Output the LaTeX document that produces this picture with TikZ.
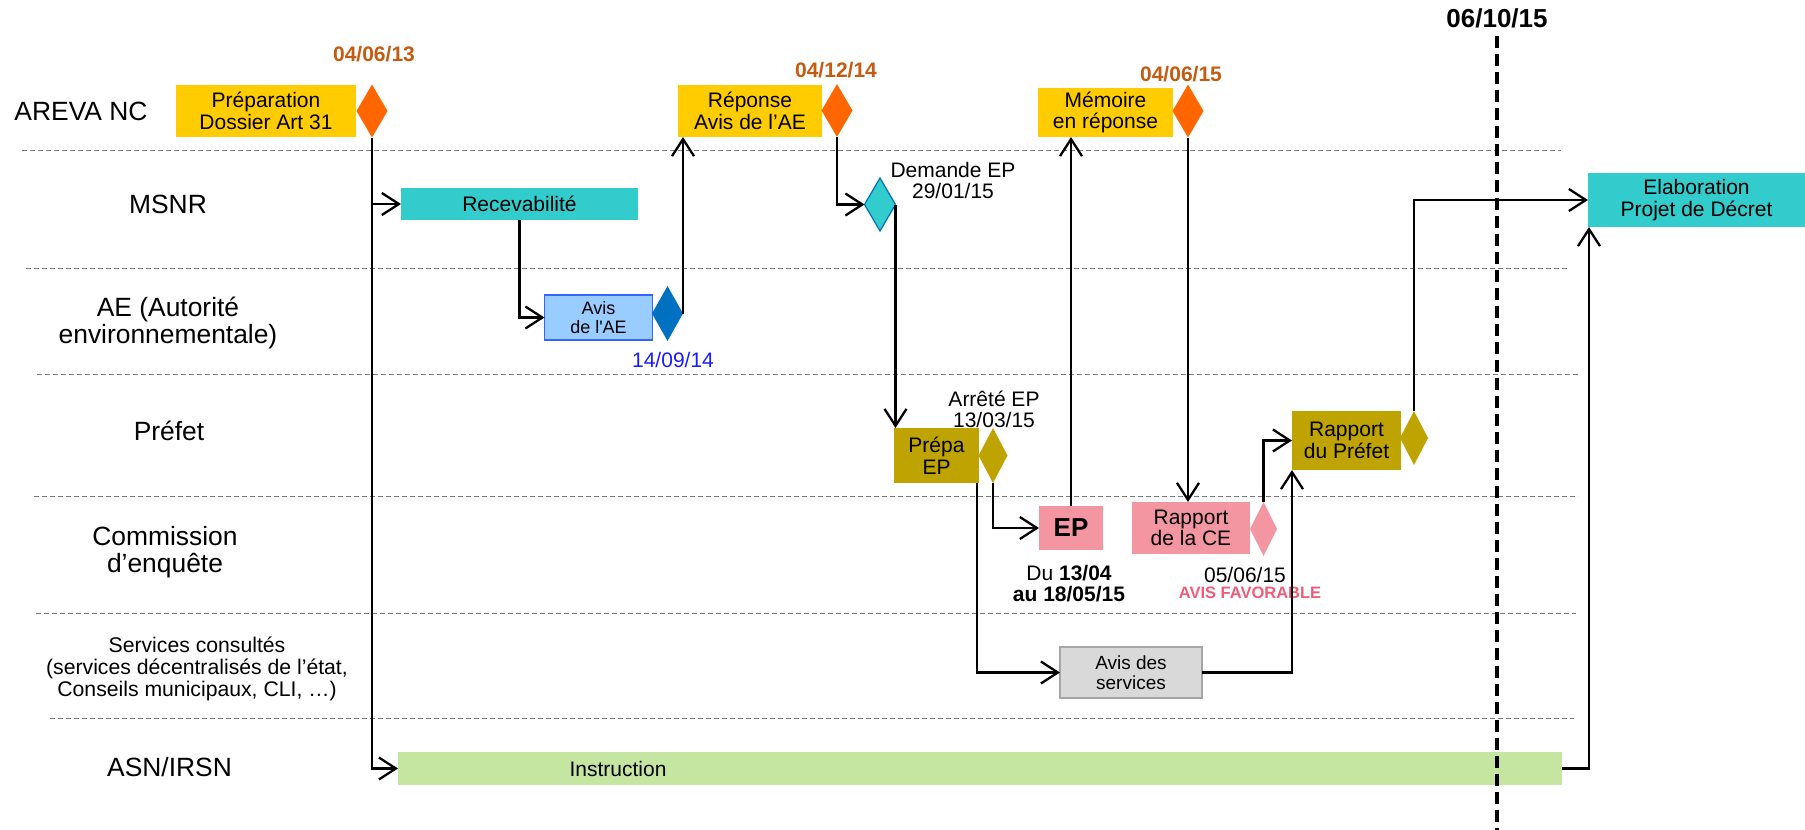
\documentclass[tikz,border=0pt]{standalone}
\usepackage{fontspec}
\setmainfont{Liberation Sans}
\usetikzlibrary{shapes.geometric,arrows.meta}

\definecolor{arevayellow}{RGB}{255,204,0}
\definecolor{arevaorange}{RGB}{255,102,0}
\definecolor{msnrteal}{RGB}{51,204,204}
\definecolor{aeblue}{RGB}{153,204,255}
\definecolor{aeborder}{RGB}{51,102,255}
\definecolor{aedark}{RGB}{0,112,192}
\definecolor{prefolive}{RGB}{191,163,0}
\definecolor{cepink}{RGB}{244,150,162}
\definecolor{servgray}{RGB}{217,217,217}
\definecolor{servborder}{RGB}{166,166,166}
\definecolor{asngreen}{RGB}{196,230,160}
\definecolor{datebrown}{RGB}{197,90,17}
\definecolor{dateblue}{RGB}{26,26,255}
\definecolor{avispink}{RGB}{240,92,120}
\definecolor{sepgray}{RGB}{120,120,120}

\begin{document}
\begin{tikzpicture}[x=1pt, y=-1pt]
  \tikzstyle{lane} = [align=center, inner sep=0pt, font=\fontsize{26.4}{27}\selectfont];
  \tikzstyle{note} = [align=center, inner sep=0pt, font=\fontsize{21}{21}\selectfont];
  \tikzstyle{date_lbl} = [note, text=datebrown, font=\bfseries\fontsize{21}{21}\selectfont];
  \tikzstyle{box} = [inner sep=0pt, outer sep=0pt, align=center, font=\fontsize{21}{21.6}\selectfont];
  \tikzstyle{yellow_box} = [box, fill=arevayellow];
  \tikzstyle{teal_box}   = [box, fill=msnrteal];
  \tikzstyle{blue_box}   = [box, fill=aeblue, draw=aeborder, line width=1.5pt, font=\fontsize{18}{19}\selectfont];
  \tikzstyle{olive_box}  = [box, fill=prefolive];
  \tikzstyle{pink_box}   = [box, fill=cepink];
  \tikzstyle{gray_box}   = [box, fill=servgray, draw=servborder, line width=1.5pt, font=\fontsize{19}{20}\selectfont];
  \tikzstyle{green_box}  = [box, fill=asngreen];
  \tikzstyle{milestone}  = [diamond, inner sep=0pt, outer sep=0pt, minimum width=31pt, minimum height=53pt];
  \tikzstyle{orange_ms}  = [milestone, fill=arevaorange];
  \tikzstyle{blue_ms}    = [milestone, fill=aedark];
  \tikzstyle{teal_ms}    = [milestone, fill=msnrteal, draw=aedark, line width=1.2pt];
  \tikzstyle{olive_ms}   = [milestone, fill=prefolive];
  \tikzstyle{pink_ms}    = [milestone, fill=cepink];
  \tikzstyle{flow} = [line width=2.3pt, -{Straight Barb[length=17pt, width=22pt]}];
  \tikzstyle{sep}  = [sepgray, line width=1pt, dash pattern=on 5pt off 3pt];

  \useasboundingbox (0, 0) rectangle (1805, 830);

  \draw[sep] (22, 150) -- (1561, 150);
  \draw[sep] (26, 268) -- (1567, 268);
  \draw[sep] (37, 374) -- (1578, 374);
  \draw[sep] (34, 496) -- (1578, 496);
  \draw[sep] (36, 613) -- (1576, 613);
  \draw[sep] (50, 718) -- (1574, 718);

  \node[lane] (areva)    at (81, 111.5) {AREVA NC};
  \node[lane] (msnr)     at (168, 204)  {MSNR};
  \node[lane] (ae)       at (168, 323)  {AE (Autorité\\environnementale)};
  \node[lane] (prefet)   at (169, 431)  {Préfet};
  \node[lane] (ce)       at (165, 552)  {Commission\\d’enquête};
  \node[lane, font=\fontsize{21.2}{22}\selectfont] (services) at (197, 669)
    {Services consultés\\(services décentralisés de l’état,\\Conseils municipaux, CLI, …)};
  \node[lane] (asn)      at (169.5, 767) {ASN/IRSN};

  \node[yellow_box, minimum width=180pt, minimum height=52pt] (prep) at (266, 111) {Préparation\\Dossier Art 31};
  \node[orange_ms] (d1) at (372, 111) {};
  \node[date_lbl] (d1_date) at (374, 54.5) {04/06/13};

  \node[teal_box, minimum width=237pt, minimum height=32pt] (recev) at (519.5, 204) {Recevabilité};

  \node[blue_box, minimum width=108pt, minimum height=45pt] (avisae) at (598.5, 317.5) {Avis\\de l\textquotesingle AE};
  \node[blue_ms, minimum height=55pt] (d_ae) at (667.5, 313.5) {};
  \node[note, text=dateblue] (d_ae_date) at (673, 359.5) {14/09/14};

  \node[yellow_box, minimum width=144pt, minimum height=52pt] (rep) at (750, 111) {Réponse\\Avis de l’AE};
  \node[orange_ms] (d2) at (837, 110.5) {};
  \node[date_lbl] (d2_date) at (836, 70.5) {04/12/14};

  \node[teal_ms] (dep) at (880, 204.5) {};
  \node[note] (dep_lbl) at (953, 180) {Demande EP\\29/01/15};

  \node[olive_box, minimum width=85pt, minimum height=55pt] (prepa) at (936.5, 455.5) {Prépa\\EP};
  \node[olive_ms, minimum width=29pt, minimum height=55pt] (d3) at (993, 455.5) {};
  \node[note] (d3_lbl) at (994, 409) {Arrêté EP\\13/03/15};

  \node[pink_box, minimum width=64pt, minimum height=44pt, font=\bfseries\fontsize{26}{26}\selectfont] (ep) at (1071, 528) {EP};
  \node[note] (ep_lbl) at (1069, 583.5) {Du \textbf{13/04}\\\textbf{au 18/05/15}};

  \node[yellow_box, minimum width=135pt, minimum height=49pt] (mem) at (1105.5, 112.5) {Mémoire\\en réponse};
  \node[orange_ms] (d4) at (1188, 111) {};
  \node[date_lbl] (d4_date) at (1181, 74.5) {04/06/15};

  \node[pink_box, minimum width=118pt, minimum height=52pt] (rce) at (1191, 528) {Rapport\\de la CE};
  \node[pink_ms, minimum width=27pt, minimum height=54pt] (d5) at (1263.5, 529) {};
  \node[note] (d5_date) at (1245, 574.5) {05/06/15};
  \node[note, text=avispink, font=\bfseries\fontsize{16.5}{17}\selectfont] (d5_avis) at (1250, 592.5) {AVIS FAVORABLE};

  \node[olive_box, minimum width=109pt, minimum height=59pt] (rpref) at (1346.5, 440.5) {Rapport\\du Préfet};
  \node[olive_ms, minimum width=28pt, minimum height=54pt] (d6) at (1414, 438) {};

  \node[gray_box, minimum width=142pt, minimum height=51pt] (serv) at (1131, 672.5) {Avis des\\services};

  \node[green_box, minimum width=1164pt, minimum height=33pt] (instr) at (980, 768.5) {};
  \node[note] (instr_lbl) at (618, 768.5) {Instruction};

  \node[teal_box, minimum width=217pt, minimum height=54pt] (elab) at (1696.5, 200) {Elaboration\\Projet de Décret};

  \draw[flow] (d1.south) |- (recev.west);
  \draw[flow] (d1.south) |- (instr.west);
  \draw[flow] (recev.south) |- (avisae.west);
  \draw[flow] (d_ae.east) -- (d_ae.east |- rep.south);
  \draw[flow] (d2.south) |- (dep.west);
  \draw[flow] (dep.east) -- (dep.east |- prepa.north);
  \draw[flow] ([xshift=-2pt]prepa.south east) |- (serv.west);
  \draw[flow] (d3.south) |- (ep.west);
  \draw[flow] (ep.north) -- (ep.north |- mem.south);
  \draw[flow] (d4.south) -- (d4.south |- rce.north);
  \draw[flow] (d5.north) |- (rpref.west);
  \draw[flow] (serv.east) -| (rpref.south west);
  \draw[flow] (d6.north) |- (elab.west);
  \draw[flow] (instr.east) -| ([xshift=1pt]elab.south west);

  \node[inner sep=0pt, font=\bfseries\fontsize{26}{26}\selectfont] (today) at (1497, 18) {06/10/15};
  \coordinate (today_end) at (1497, 830);
  \draw[line width=4.5pt, dash pattern=on 12pt off 6pt, shorten <=8pt] (today.south) -- (today_end);
\end{tikzpicture}
\end{document}
